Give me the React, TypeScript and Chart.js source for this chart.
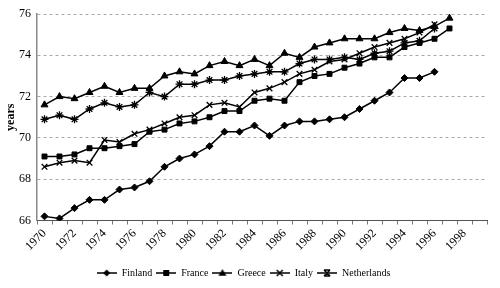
import React, { useEffect, useRef } from "react";
import { Chart, registerables } from "chart.js";

Chart.register(...registerables);

const years = [
  "1970", "1971", "1972", "1973", "1974", "1975", "1976", "1977", "1978", "1979",
  "1980", "1981", "1982", "1983", "1984", "1985", "1986", "1987", "1988", "1989",
  "1990", "1991", "1992", "1993", "1994", "1995", "1996", "1997", "1998", "1999",
];

const finland = [66.2, 66.1, 66.6, 67.0, 67.0, 67.5, 67.6, 67.9, 68.6, 69.0, 69.2, 69.6, 70.3, 70.3, 70.6, 70.1, 70.6, 70.8, 70.8, 70.9, 71.0, 71.4, 71.8, 72.2, 72.9, 72.9, 73.2];
const france = [69.1, 69.1, 69.2, 69.5, 69.5, 69.6, 69.7, 70.3, 70.4, 70.7, 70.8, 71.0, 71.3, 71.3, 71.8, 71.9, 71.8, 72.7, 73.0, 73.1, 73.4, 73.6, 73.9, 73.9, 74.4, 74.6, 74.8, 75.3];
const greece = [71.6, 72.0, 71.9, 72.2, 72.5, 72.2, 72.4, 72.4, 73.0, 73.2, 73.1, 73.5, 73.7, 73.5, 73.8, 73.5, 74.1, 73.9, 74.4, 74.6, 74.8, 74.8, 74.8, 75.1, 75.3, 75.2, 75.4, 75.8];
const italy = [68.6, 68.8, 68.9, 68.8, 69.9, 69.8, 70.2, 70.4, 70.7, 71.0, 71.1, 71.6, 71.7, 71.5, 72.2, 72.4, 72.7, 73.1, 73.3, 73.7, 73.8, 74.1, 74.4, 74.6, 74.8, 75.1, 75.5];
const netherlands = [70.9, 71.1, 70.9, 71.4, 71.7, 71.5, 71.6, 72.2, 72.0, 72.6, 72.6, 72.8, 72.8, 73.0, 73.1, 73.2, 73.2, 73.6, 73.8, 73.8, 73.9, 73.8, 74.1, 74.2, 74.6, 74.7, 75.3];

const seriesNames = ["Finland", "France", "Greece", "Italy", "Netherlands"];
const seriesData = [finland, france, greece, italy, netherlands];
const markerStyles = ["rectRot", "rect", "triangle", "crossRot", "star"];
const markerSizes = [3.5, 3.5, 4, 4, 4];

const yTicks = [66, 68, 70, 72, 74, 76];

const FONT = '"Liberation Serif", "Times New Roman", serif';

function drawMarker(ctx: CanvasRenderingContext2D, style: string, x: number, y: number, r: number) {
  ctx.beginPath();
  if (style === "rectRot") {
    ctx.moveTo(x, y - r);
    ctx.lineTo(x + r, y);
    ctx.lineTo(x, y + r);
    ctx.lineTo(x - r, y);
    ctx.closePath();
    ctx.fill();
  } else if (style === "rect") {
    const s = r * 0.85;
    ctx.rect(x - s, y - s, 2 * s, 2 * s);
    ctx.fill();
  } else if (style === "triangle") {
    ctx.moveTo(x, y - r);
    ctx.lineTo(x + r, y + r * 0.7);
    ctx.lineTo(x - r, y + r * 0.7);
    ctx.closePath();
    ctx.fill();
  } else if (style === "crossRot") {
    const s = r * 0.75;
    ctx.moveTo(x - s, y - s);
    ctx.lineTo(x + s, y + s);
    ctx.moveTo(x + s, y - s);
    ctx.lineTo(x - s, y + s);
    ctx.stroke();
  } else {
    const s = r * 0.75;
    ctx.moveTo(x - s, y - s);
    ctx.lineTo(x + s, y + s);
    ctx.moveTo(x + s, y - s);
    ctx.lineTo(x - s, y + s);
    ctx.moveTo(x - s, y - s);
    ctx.lineTo(x + s, y - s);
    ctx.moveTo(x - s, y + s);
    ctx.lineTo(x + s, y + s);
    ctx.stroke();
  }
}

function makeLegendIcon(style: string, r: number): HTMLCanvasElement {
  const c = document.createElement("canvas");
  c.width = 20;
  c.height = 10;
  const ctx = c.getContext("2d")!;
  ctx.strokeStyle = "#000";
  ctx.fillStyle = "#000";
  ctx.lineWidth = 1.5;
  ctx.beginPath();
  ctx.moveTo(0, 5);
  ctx.lineTo(20, 5);
  ctx.stroke();
  drawMarker(ctx, style, 10, 5, r);
  return c;
}

export default function App() {
  const ref = useRef<HTMLCanvasElement>(null);

  useEffect(() => {
    if (!ref.current) return;
    const icons = markerStyles.map((s, i) => makeLegendIcon(s, markerSizes[i]));
    const chart = new Chart(ref.current, {
      type: "line",
      data: {
        labels: years,
        datasets: seriesNames.map((name, i) => ({
          label: name,
          data: seriesData[i],
          borderColor: "#000",
          backgroundColor: "#000",
          borderWidth: 1.5,
          pointStyle: markerStyles[i] as any,
          pointRadius: markerSizes[i],
          pointBorderWidth: markerStyles[i] === "crossRot" || markerStyles[i] === "star" ? 1.3 : 1,
          pointBorderColor: "#000",
          pointBackgroundColor: "#000",
          tension: 0,
          fill: false,
        })),
      },
      options: {
        responsive: false,
        animation: false,
        layout: { padding: { top: 14, right: 13, left: 0, bottom: 0 } },
        plugins: {
          tooltip: { enabled: false },
          title: { display: false },
          legend: {
            position: "bottom",
            labels: {
              usePointStyle: true,
              pointStyleWidth: 20,
              boxHeight: 10,
              padding: 4,
              color: "#000",
              font: { family: FONT, size: 10 },
              generateLabels: (ch: any) =>
                ch.data.datasets.map((ds: any, i: number) => ({
                  text: ds.label,
                  pointStyle: icons[i],
                  fillStyle: "#000",
                  strokeStyle: "#000",
                  lineWidth: 0,
                  hidden: false,
                  datasetIndex: i,
                  fontColor: "#000",
                })),
            },
          },
        },
        scales: {
          x: {
            type: "category",
            offset: true,
            grid: {
              display: true,
              drawOnChartArea: false,
              offset: true,
              tickLength: 4,
              color: "#777",
            },
            border: { display: true, color: "#555", width: 1 },
            ticks: {
              autoSkip: false,
              maxRotation: 45,
              minRotation: 45,
              padding: 2,
              color: "#000",
              font: { family: FONT, size: 12 },
              callback: (_v: any, i: number) => (i % 2 === 0 ? years[i] : ""),
            },
            afterFit: (scale: any) => {
              scale.height = 43.5;
            },
          },
          y: {
            min: 66,
            max: 76,
            afterBuildTicks: (scale: any) => {
              scale.ticks = yTicks.map((v) => ({ value: v }));
            },
            grid: {
              color: "#a8a8a8",
              drawTicks: false,
              lineWidth: 1,
            },
            border: { display: true, color: "#888", width: 1.5, dash: [3, 3] },
            ticks: {
              padding: 6,
              color: "#000",
              font: { family: FONT, size: 12 },
            },
            title: {
              display: true,
              text: "years",
              color: "#000",
              font: { family: FONT, size: 12, weight: "bold" },
              padding: { top: 4, bottom: 2 },
            },
            afterFit: (scale: any) => {
              scale.width = 37;
            },
          },
        },
      },
    } as any);
    return () => chart.destroy();
  }, []);

  return (
    <div style={{ position: "absolute", left: 0, top: 0, width: 500, height: 288, background: "#fff" }}>
      <canvas ref={ref} width={500} height={288} />
    </div>
  );
}
